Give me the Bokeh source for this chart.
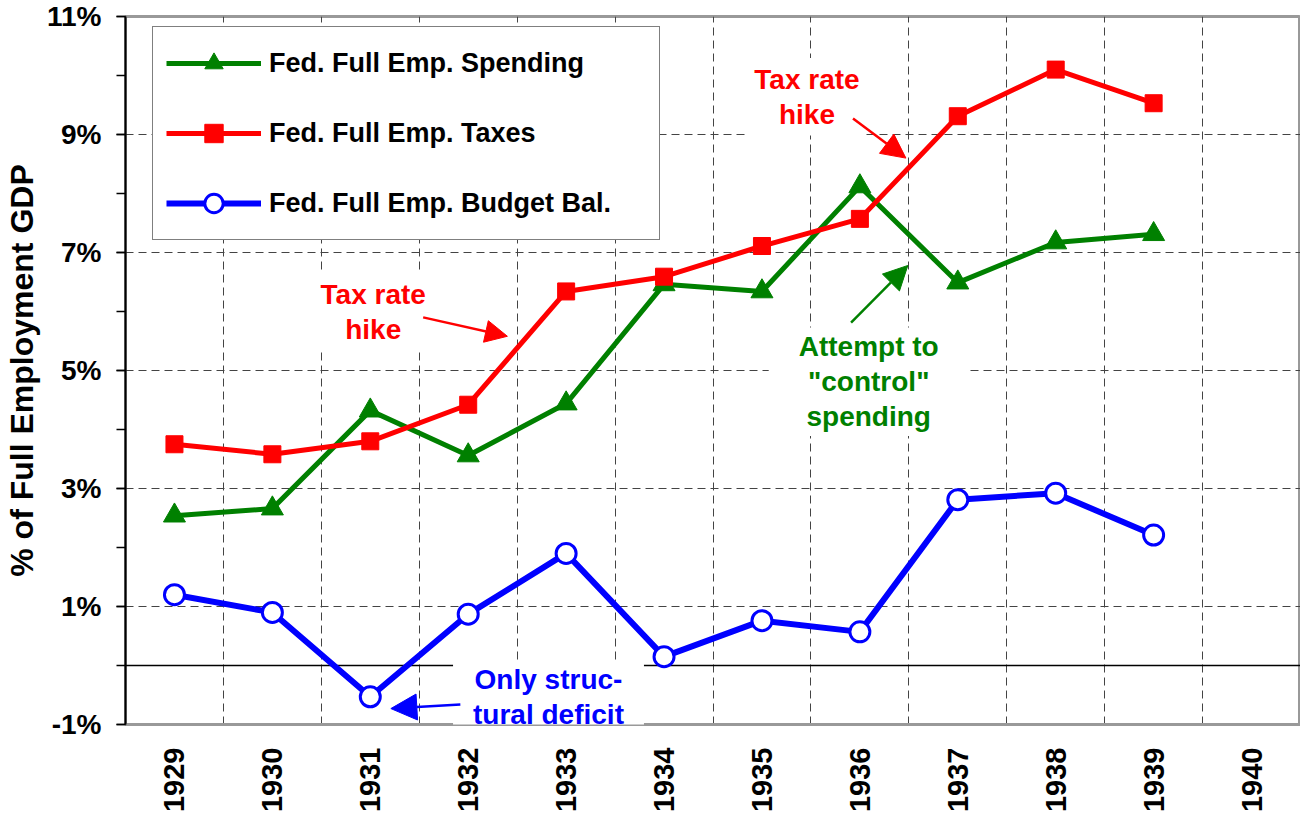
from bokeh.plotting import figure
from bokeh.embed import file_html
from bokeh.resources import INLINE
from bokeh.models import (Legend, LegendItem, FixedTicker, Span, Label, Arrow,
                          NormalHead, Range1d)

# ---------------- data ----------------
years = [1929, 1930, 1931, 1932, 1933, 1934, 1935, 1936, 1937, 1938, 1939]
axis_years = [1929, 1930, 1931, 1932, 1933, 1934, 1935, 1936, 1937, 1938, 1939, 1940]
spending = [2.54, 2.66, 4.32, 3.56, 4.44, 6.46, 6.34, 8.12, 6.49, 7.17, 7.31]
taxes = [3.75, 3.58, 3.80, 4.42, 6.34, 6.59, 7.11, 7.57, 9.31, 10.10, 9.53]
balance = [1.20, 0.90, -0.53, 0.87, 1.90, 0.15, 0.76, 0.57, 2.81, 2.92, 2.21]
y_major = [-1, 1, 3, 5, 7, 9, 11]
y_minor = [-1, 0, 1, 2, 3, 4, 5, 6, 7, 8, 9, 10, 11]
y_grid = [1, 3, 5, 7, 9]
names = ["Fed. Full Emp. Spending", "Fed. Full Emp. Taxes", "Fed. Full Emp. Budget Bal."]

FONT = "Liberation Sans"
GREEN = "#008000"
RED = "#FF0000"
BLUE = "#0000FF"

p = figure(width=1300, height=816, output_backend="svg", toolbar_location=None,
           x_range=Range1d(axis_years[0] - 0.5, axis_years[-1] + 0.5),
           y_range=Range1d(-1, 11),
           min_border_left=125, min_border_right=0, min_border_top=16,
           min_border_bottom=92)
p.background_fill_color = "white"
p.border_fill_color = "white"
p.outline_line_color = "#999999"
p.outline_line_width = 3

# grids
p.xgrid.ticker = FixedTicker(ticks=[y + 0.5 for y in axis_years[:-1]])
p.ygrid.ticker = FixedTicker(ticks=y_grid)
for g in (p.xgrid, p.ygrid):
    g.grid_line_color = "#444444"
    g.grid_line_dash = "8 5"
    g.grid_line_width = 1

zero = Span(location=0, dimension="width", line_color="black", line_width=1.5,
            level="underlay")
p.add_layout(zero)

# y axis
p.yaxis.ticker = FixedTicker(ticks=y_major, minor_ticks=y_minor)
p.yaxis.major_label_overrides = {v: f"{v}%" for v in y_major}
p.yaxis.axis_label = "% of Full Employment GDP"
p.yaxis.axis_label_text_font = FONT
p.yaxis.axis_label_text_font_style = "bold"
p.yaxis.axis_label_text_font_size = "32px"
p.yaxis.axis_label_text_color = "black"
p.yaxis.axis_label_standoff = 4
p.yaxis.major_label_text_font = FONT
p.yaxis.major_label_text_font_style = "bold"
p.yaxis.major_label_text_font_size = "28px"
p.yaxis.major_label_text_color = "black"
p.yaxis.major_label_standoff = 15
p.yaxis.axis_line_color = "black"
p.yaxis.axis_line_width = 2
p.yaxis.major_tick_in = 0
p.yaxis.major_tick_out = 9
p.yaxis.minor_tick_in = 0
p.yaxis.minor_tick_out = 9
p.yaxis.major_tick_line_color = "black"
p.yaxis.minor_tick_line_color = "black"
p.yaxis.major_tick_line_width = 1.5
p.yaxis.minor_tick_line_width = 1.5

# x axis
p.xaxis.ticker = FixedTicker(ticks=axis_years)
p.xaxis.major_label_overrides = {y: str(y) for y in axis_years}
p.xaxis.major_label_orientation = 3.14159265 / 2
p.xaxis.major_label_text_font = FONT
p.xaxis.major_label_text_font_style = "bold"
p.xaxis.major_label_text_font_size = "29px"
p.xaxis.major_label_text_color = "black"
p.xaxis.major_label_standoff = 23
p.xaxis.major_tick_in = 0
p.xaxis.major_tick_out = 0
p.xaxis.minor_tick_line_color = None
p.xaxis.axis_line_color = "#999999"
p.xaxis.axis_line_width = 3

# series
l1 = p.line(years, spending, line_color=GREEN, line_width=5)
m1 = p.scatter(years, spending, marker="triangle", size=22, fill_color=GREEN,
               line_color=GREEN)
l2 = p.line(years, taxes, line_color=RED, line_width=5)
m2 = p.scatter(years, taxes, marker="square", size=17, fill_color=RED, line_color=RED)
l3 = p.line(years, balance, line_color=BLUE, line_width=6)
m3 = p.scatter(years, balance, marker="circle", size=20, fill_color="white",
               line_color=BLUE, line_width=3)

legend = Legend(items=[LegendItem(label=names[0], renderers=[l1, m1]),
                       LegendItem(label=names[1], renderers=[l2, m2]),
                       LegendItem(label=names[2], renderers=[l3, m3])],
                location=(27, 484), padding=13, spacing=24,
                glyph_width=95, glyph_height=46, label_height=46,
                label_width=377, label_standoff=8,
                label_text_font=FONT, label_text_font_style="bold",
                label_text_font_size="27px", label_text_color="black",
                border_line_color="black", border_line_width=1.5,
                background_fill_color="white", background_fill_alpha=1)
p.add_layout(legend, "center")

# annotations
ann_font = "28px"


def note(x, y, text, color, pad):
    lab = Label(x=x, y=y, text=text, text_color=color, text_font=FONT,
                text_font_style="bold", text_font_size=ann_font,
                text_align="center", text_baseline="middle",
                text_line_height=1.12, background_fill_color="white",
                background_fill_alpha=1, padding=pad)
    p.add_layout(lab)


def arrow(x0, y0, x1, y1, color, size):
    p.add_layout(Arrow(x_start=x0, y_start=y0, x_end=x1, y_end=y1,
                       line_color=color, line_width=2.5,
                       end=NormalHead(size=size, fill_color=color,
                                      line_color=color)))


note(1931.03, 5.99, "Tax rate\nhike", RED, 6)
arrow(1931.54, 5.90, 1932.40, 5.58, RED, 22)

note(1935.46, 9.64, "Tax rate\nhike", RED, 6)
arrow(1935.93, 9.27, 1936.47, 8.60, RED, 24)

note(1936.09, 4.81, "Attempt to\n\"control\"\nspending", GREEN,
     dict(left=30, right=30, top=4, bottom=4))
arrow(1935.91, 5.81, 1936.49, 6.78, GREEN, 24)

note(1932.82, -0.53, "Only struc-\ntural deficit", BLUE,
     dict(left=20, right=20, top=4, bottom=4))
arrow(1931.92, -0.66, 1931.21, -0.73, BLUE, 26)

open("out.html", "w").write(file_html(p, INLINE))
